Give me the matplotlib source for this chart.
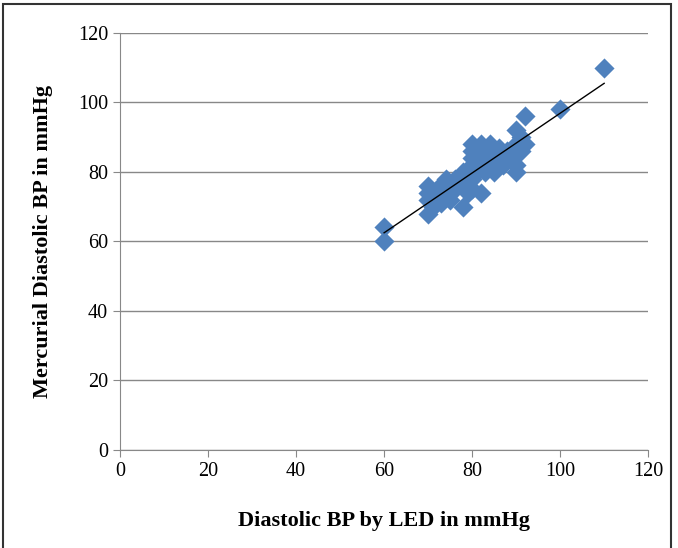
import numpy as np
import matplotlib
matplotlib.use('Agg')
import matplotlib.pyplot as plt
from matplotlib.patches import Rectangle

plt.rcParams['font.family'] = ['Liberation Serif', 'DejaVu Serif']

led = [60, 60, 70, 70, 70, 70, 71, 72, 72, 73, 74, 74, 75, 75, 76, 76, 77, 78, 78, 78,
       79, 79, 80, 80, 80, 80, 80, 80, 81, 81, 82, 82, 82, 83, 83, 84, 84, 85, 85, 86,
       86, 87, 88, 88, 89, 90, 90, 90, 90, 91, 91, 92, 92, 100, 110]
merc = [60, 64, 68, 72, 74, 76, 70, 73, 75, 71, 74, 78, 72, 76, 75, 78, 77, 70, 76, 80,
        74, 79, 82, 84, 86, 88, 78, 75, 80, 85, 74, 83, 88, 86, 80, 82, 88, 85, 80, 84,
        87, 82, 86, 84, 84, 80, 82, 88, 92, 86, 90, 88, 96, 98, 110]

fig = plt.figure(figsize=(6.78, 5.48), dpi=100)
ax = fig.add_axes([0.177, 0.179, 0.779, 0.761])

ax.scatter(led, merc, marker='D', s=105, color='#4F81BD', zorder=3, linewidths=0)
k, b = np.polyfit(led, merc, 1)
xs = np.array([min(led), max(led)])
ax.plot(xs, k * xs + b, color='black', lw=1, zorder=4)

ax.set_xlim(0, 120)
ax.set_ylim(0, 120)
ax.set_xticks(range(0, 121, 20))
ax.set_yticks(range(0, 121, 20))
ax.yaxis.grid(True, color='#888888', lw=1)
ax.set_axisbelow(True)
for s in ['top', 'right']:
    ax.spines[s].set_visible(False)
for s in ['left', 'bottom']:
    ax.spines[s].set_color('#888888')
ax.tick_params(colors='#888888', labelcolor='black', labelsize=14.5, length=5, direction='out')

ax.set_xlabel('Diastolic BP by LED in mmHg', fontsize=16, fontweight='bold', labelpad=22)
ax.set_ylabel('Mercurial Diastolic BP in mmHg', fontsize=16, fontweight='bold', labelpad=18)

fig.patches.append(Rectangle((0.005, -0.01), 0.985, 1.003, transform=fig.transFigure,
                             fill=False, edgecolor='#333333', lw=1.5))

fig.savefig('out.png', dpi=100)
